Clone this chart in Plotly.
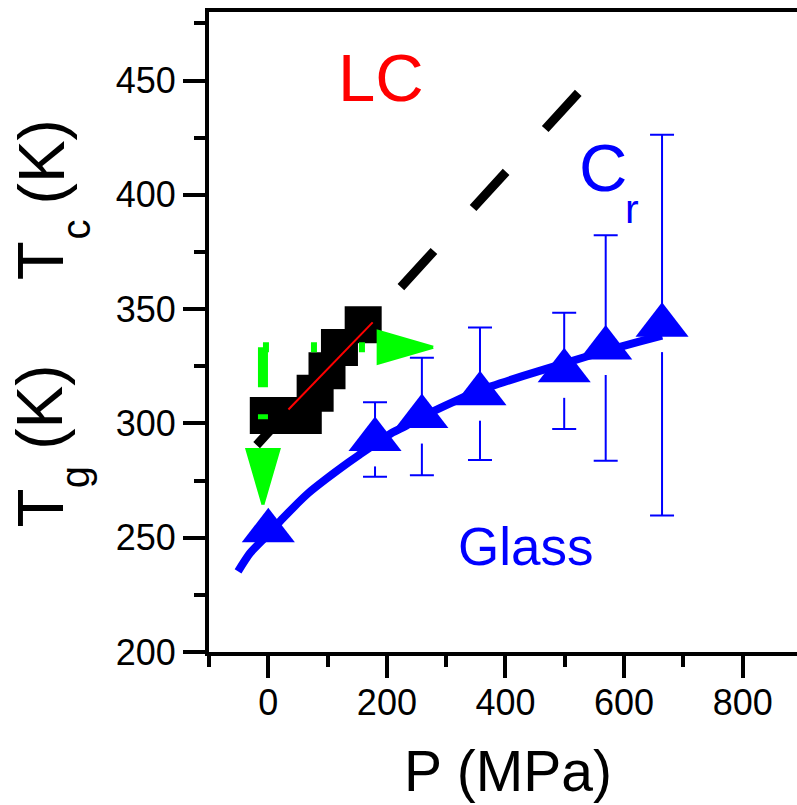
import plotly.graph_objects as go

# ---------------- data ----------------
# Glass transition T_g(P) with error bars (blue triangles)
glass_p = [0, 180, 259, 357, 499, 569, 664]
glass_t = [253, 293, 303, 313, 323, 333, 343]
glass_err = [0, 16.3, 25.7, 29, 25.4, 49.3, 83.3]

# smooth guide through the glass points (blue curve)
fit_p = [-51, -31, 0, 25, 67, 96, 135, 152, 208, 231, 260, 315, 357, 430, 499, 570, 627, 664]
fit_t = [235.3, 243.2, 251.5, 258.6, 269.4, 275.4, 282.9, 286.0, 295.8, 298.8, 303.0, 309.8, 314.5, 320.8, 326.3, 331.8, 335.9, 338.4]

# LC clearing temperature T_c(P) (black squares)
lc_p = [0, 59, 79, 99, 120, 160]
lc_t = [303.5, 303.5, 313.2, 323.0, 333.2, 343.2]

# linear fit to the squares (thin red line)
lcfit_p = [34, 176]
lcfit_t = [306.1, 344.2]

# extrapolated LC boundary (black dashed line)
lcext_p = [-19.7, 523]
lcext_t = [290.5, 444.7]

# green arrows: common start, two tips
arrow_from_p = [-9, -9]
arrow_from_t = [333.3, 333.3]
arrow_to_p = [-9, 278]
arrow_to_t = [264.5, 333.3]

x_ticks = [0, 200, 400, 600, 800]
y_ticks = [200, 250, 300, 350, 400, 450]

# ---------------- layout geometry ----------------
W, H = 797, 805
M_L, M_R, M_T, M_B = 209, 0, 12, 152.5
X_RANGE = [-100, 891.6]
Y_RANGE = [200, 480]
PLOT_W = W - M_L - M_R
PLOT_H = H - M_T - M_B
PX_X = PLOT_W / (X_RANGE[1] - X_RANGE[0])   # pixels per MPa
PX_Y = PLOT_H / (Y_RANGE[1] - Y_RANGE[0])   # pixels per K

BLUE = "#0000ff"
RED = "#ff0000"
GREEN = "#00ff00"
FONT = "Liberation Sans, Arial, sans-serif"


def paper_x(px):
    return (px - M_L) / PLOT_W


def paper_y(py):
    return (H - M_B - py) / PLOT_H


fig = go.Figure()

# dashed extrapolation of the LC line
fig.add_trace(go.Scatter(
    x=lcext_p, y=lcext_t, mode="lines",
    line=dict(color="black", width=9, dash="49px,58px"),
    hoverinfo="skip", showlegend=False))

# error bars of the glass points
fig.add_trace(go.Scatter(
    x=glass_p, y=glass_t, mode="markers",
    marker=dict(size=1, color="rgba(0,0,0,0)"),
    error_y=dict(type="data", array=glass_err, visible=True,
                 color=BLUE, thickness=2, width=12),
    hoverinfo="skip", showlegend=False))

# small white gap between each triangle and its lower error bar
GAP_PX = 27
mask_p = [p for p, e in zip(glass_p, glass_err) if e > 0]
mask_t = [t - GAP_PX / 2 / PX_Y for t, e in zip(glass_t, glass_err) if e > 0]
fig.add_trace(go.Scatter(
    x=mask_p, y=mask_t, mode="markers",
    marker=dict(symbol="square", size=GAP_PX, color="white"),
    hoverinfo="skip", showlegend=False))

# blue guide curve
fig.add_trace(go.Scatter(
    x=fit_p, y=fit_t, mode="lines",
    line=dict(color=BLUE, width=8, shape="spline", smoothing=0.6),
    hoverinfo="skip", showlegend=False))

# glass triangles
fig.add_trace(go.Scatter(
    x=glass_p, y=glass_t, mode="markers",
    marker=dict(symbol="triangle-up", size=46, color=BLUE),
    showlegend=False))

# LC squares
fig.add_trace(go.Scatter(
    x=lc_p, y=lc_t, mode="markers",
    marker=dict(symbol="square", size=37, color="black"),
    showlegend=False))

# red fit line
fig.add_trace(go.Scatter(
    x=lcfit_p, y=lcfit_t, mode="lines",
    line=dict(color=RED, width=2),
    hoverinfo="skip", showlegend=False))

# green arrows: broken shafts plus filled heads
HEAD_LEN = 55
HEAD_HALF = 16
shaft_dash = ["40px,27px,5px,300px", "6px,42px"]
for i in range(len(arrow_to_p)):
    x0, y0 = arrow_from_p[i], arrow_from_t[i]
    x1, y1 = arrow_to_p[i], arrow_to_t[i]
    dx = (x1 - x0) * PX_X
    dy = (y1 - y0) * PX_Y
    L = (dx ** 2 + dy ** 2) ** 0.5
    ux, uy = dx / L, dy / L
    bx = x1 - ux * HEAD_LEN / PX_X
    by = y1 - uy * HEAD_LEN / PX_Y
    nx, ny = -uy, ux
    fig.add_trace(go.Scatter(
        x=[x0, bx], y=[y0, by], mode="lines",
        line=dict(color=GREEN, width=10, dash=shaft_dash[i]),
        hoverinfo="skip", showlegend=False))
    hx = [x1, bx + nx * HEAD_HALF / PX_X, bx - nx * HEAD_HALF / PX_X, x1]
    hy = [y1, by + ny * HEAD_HALF / PX_Y, by - ny * HEAD_HALF / PX_Y, y1]
    fig.add_trace(go.Scatter(
        x=hx, y=hy, mode="lines", fill="toself", fillcolor=GREEN,
        line=dict(color=GREEN, width=3),
        hoverinfo="skip", showlegend=False))

# ---------------- text ----------------
ann = []
# labels inside the plot (data coordinates)
ann.append(dict(x=190, y=451.4, text="LC", font=dict(size=67, color=RED)))
ann.append(dict(x=563.6, y=412.0, text="C", font=dict(size=67, color=BLUE)))
ann.append(dict(x=613.3, y=394.0, text="r", font=dict(size=41, color=BLUE)))
ann.append(dict(x=433, y=246, text="Glass", font=dict(size=53, color=BLUE)))
for a in ann:
    a.update(xref="x", yref="y", showarrow=False,
             xanchor="center", yanchor="middle")

# y-axis title pieces (rotated)
ytitle = [
    ("T", 64, 40.5, 508.3),
    ("g", 40, 75.1, 477.5),
    ("(K)", 64, 40.5, 407.5),
    ("T", 64, 40.5, 261.0),
    ("c", 40, 75.6, 230.0),
    ("(K)", 64, 42.0, 162.5),
]
for txt, size, px, py in ytitle:
    ann.append(dict(x=paper_x(px), y=paper_y(py), xref="paper", yref="paper",
                    text=txt, textangle=-90, showarrow=False,
                    xanchor="center", yanchor="middle",
                    font=dict(size=size, color="black")))

# x-axis title
ann.append(dict(x=paper_x(508), y=paper_y(772), xref="paper", yref="paper",
                text="P (MPa)", showarrow=False,
                xanchor="center", yanchor="middle",
                font=dict(size=57, color="black")))

fig.update_layout(
    width=W, height=H, autosize=False,
    margin=dict(l=M_L, r=M_R, t=M_T, b=M_B, pad=0),
    paper_bgcolor="white", plot_bgcolor="white",
    font=dict(family=FONT, color="black"),
    showlegend=False,
    annotations=ann,
)

fig.update_xaxes(
    range=X_RANGE, showgrid=False, zeroline=False,
    showline=True, linecolor="black", linewidth=4, mirror=True,
    ticks="outside", ticklen=22, tickwidth=4, tickcolor="black",
    tickvals=x_ticks, ticktext=[str(v) for v in x_ticks],
    tickfont=dict(size=36, family=FONT, color="black"),
    ticklabelstandoff=-6,
    minor=dict(ticks="outside", ticklen=11, tickwidth=4, tickcolor="black",
               dtick=100, tick0=0, showgrid=False),
)
fig.update_yaxes(
    range=Y_RANGE, showgrid=False, zeroline=False,
    showline=True, linecolor="black", linewidth=4, mirror=False,
    ticks="outside", ticklen=22, tickwidth=4, tickcolor="black",
    tickvals=y_ticks, ticktext=[str(v) for v in y_ticks],
    tickfont=dict(size=36, family=FONT, color="black"),
    minor=dict(ticks="outside", ticklen=11, tickwidth=4, tickcolor="black",
               dtick=25, tick0=0, showgrid=False),
)

fig.write_html("out.html")
